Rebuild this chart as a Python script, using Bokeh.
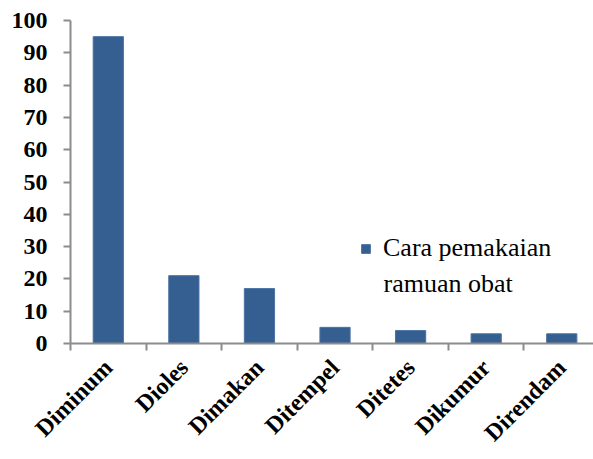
from bokeh.plotting import figure
from bokeh.models import ColumnDataSource, FixedTicker, Range1d, Legend, LegendItem, Label
from bokeh.embed import file_html
from bokeh.resources import INLINE
import math

categories = ["Diminum", "Dioles", "Dimakan", "Ditempel", "Ditetes", "Dikumur", "Direndam"]
values = [95, 21, 17, 5, 4, 3, 3]
y_ticks = [0, 10, 20, 30, 40, 50, 60, 70, 80, 90, 100]
series_line1 = "Cara pemakaian"
series_line2 = "ramuan obat"

xs = list(range(len(categories)))
src = ColumnDataSource(dict(x=xs, top=values))

p = figure(width=593, height=459, output_backend="svg", toolbar_location=None,
           x_range=Range1d(-0.5, 6.42), y_range=Range1d(0, 100),
           min_border_left=70, min_border_right=0, min_border_top=20, min_border_bottom=116)
p.outline_line_color = None
p.xgrid.visible = False
p.ygrid.visible = False
p.background_fill_color = "white"

r = p.vbar(x="x", top="top", width=0.4, source=src, fill_color="#365F91", line_color="#4A72A3", line_width=1)

axis_color = "#8C8C8C"
serif = "Times New Roman"
legend_font = "Liberation Serif"

xa = p.xaxis[0]
xa.ticker = FixedTicker(ticks=xs, minor_ticks=[i - 0.5 for i in range(len(categories) + 1)])
xa.major_label_overrides = {i: c for i, c in enumerate(categories)}
xa.major_tick_out = 0
xa.major_tick_in = 0
xa.minor_tick_out = 7
xa.minor_tick_in = 0
xa.minor_tick_line_color = axis_color
xa.minor_tick_line_width = 2
xa.axis_line_color = axis_color
xa.axis_line_width = 2
xa.major_label_orientation = math.pi / 4
xa.major_label_text_font = serif
xa.major_label_text_font_style = "bold"
xa.major_label_text_font_size = "24px"
xa.major_label_text_color = "black"
xa.major_label_standoff = 13

ya = p.yaxis[0]
ya.ticker = FixedTicker(ticks=y_ticks)
ya.major_tick_out = 7
ya.major_tick_in = 0
ya.minor_tick_out = 0
ya.minor_tick_in = 0
ya.major_tick_line_color = axis_color
ya.major_tick_line_width = 2
ya.axis_line_color = axis_color
ya.axis_line_width = 2
ya.major_label_text_font = serif
ya.major_label_text_font_style = "bold"
ya.major_label_text_font_size = "24px"
ya.major_label_text_color = "black"
ya.major_label_standoff = 16

legend = Legend(items=[LegendItem(label=series_line1, renderers=[r])],
                location=(290, 80), padding=0, margin=0, spacing=0,
                border_line_color=None, background_fill_alpha=0,
                label_text_font=legend_font, label_text_font_style="normal",
                label_text_font_size="26px",
                label_text_color="black", glyph_width=11, glyph_height=11,
                label_standoff=12, label_height=24)
p.add_layout(legend)

p.add_layout(Label(x=313, y=46, x_units="screen", y_units="screen", text=series_line2,
                   text_font=legend_font, text_font_style="normal",
                   text_font_size="26px", text_color="black"))

open("out.html", "w").write(file_html(p, INLINE))
